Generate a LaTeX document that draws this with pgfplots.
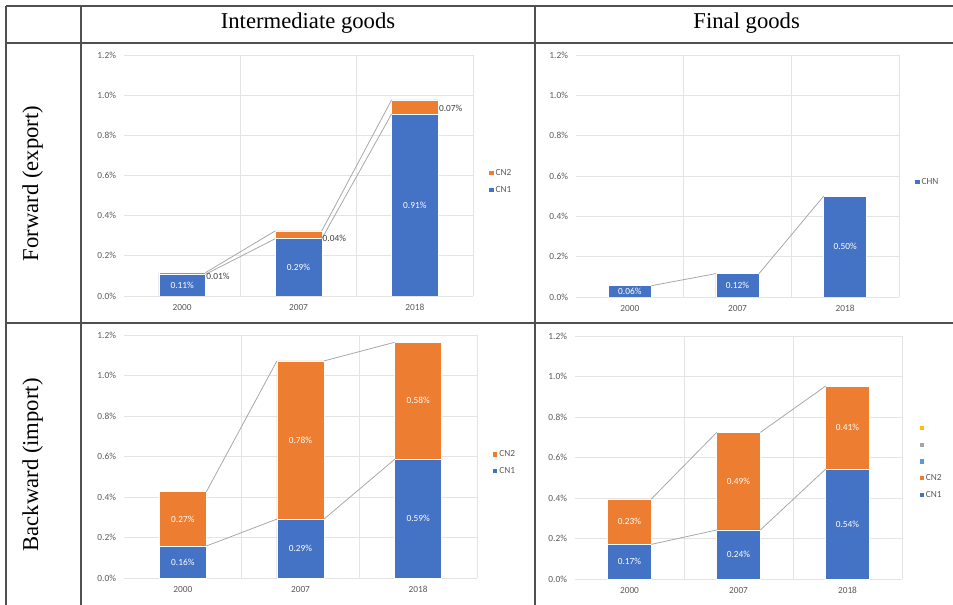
\documentclass[border=0pt]{standalone}
\usepackage{fontspec}
\setmainfont{Liberation Serif}
\newfontfamily\calfont{Carlito}
\usepackage{pgfplots}
\pgfplotsset{compat=1.18}
\definecolor{cBlue}{HTML}{4472C4}
\definecolor{cOrange}{HTML}{ED7D31}
\definecolor{cGray}{HTML}{A5A5A5}
\definecolor{cYellow}{HTML}{FFC000}
\definecolor{cLBlue}{HTML}{5B9BD5}
\definecolor{cGrid}{HTML}{E4E4E4}
\definecolor{cTick}{HTML}{595959}
\definecolor{cLine}{HTML}{A8A8A8}
\definecolor{cTable}{HTML}{505050}
\definecolor{cDark}{HTML}{404040}
\newcommand\cf{\calfont\fontsize{7pt}{8.4pt}\selectfont}
\pgfplotsset{
  panel/.style={
    scale only axis, anchor=south west,
    xmin=-0.5, xmax=2.5, ymin=0, ymax=1.2,
    xtick={0,1,2}, xticklabels={2000,2007,2018},
    ytick={0,0.2,0.4,0.6,0.8,1.0,1.2},
    minor xtick={0.5,1.5,2.5}, xminorgrids, ymajorgrids,
    grid style={draw=cGrid, line width=0.6pt},
    minor grid style={draw=cGrid, line width=0.6pt},
    axis line style={draw=none}, tick style={draw=none},
    major tick length=0pt, minor tick length=0pt,
    /pgf/number format/assume math mode=true,
    yticklabel={\pgfmathprintnumber[fixed,fixed zerofill,precision=1]{\tick}\%},
    ticklabel style={font=\cf, text=cTick},
    yticklabel style={xshift=-2.5pt},
    xticklabel style={yshift=-2.5pt},
    ybar stacked, bar width=0.4,
  },
  over/.style={
    scale only axis, anchor=south west, hide axis, clip=false,
    xmin=-0.5, xmax=2.5, ymin=0, ymax=1.2,
    legend style={draw=none, fill=none, font=\cf, text=cTick, inner sep=0pt,
      anchor=west, row sep=6.3pt, legend cell align=left,
      nodes={inner sep=0pt, text height=4.8pt, text depth=1.4pt},
      /tikz/every odd column/.style={column sep=1.5pt}},
    legend image code/.code={\fill[##1, draw=none] (0pt,-1.6pt) rectangle (3.2pt,1.6pt);},
  },
  sline/.style={color=cLine, line width=0.6pt},
  wlab/.style={draw=none, nodes near coords, point meta=explicit symbolic,
    every node near coord/.append style={font=\cf, text=white, anchor=center}},
  dlab/.style={draw=none, nodes near coords, point meta=explicit symbolic,
    every node near coord/.append style={font=\cf, text=cDark, anchor=west, inner sep=0.5pt}},
  bblue/.style={fill=cBlue, draw=white, line width=0.4pt},
  borange/.style={fill=cOrange, draw=white, line width=0.4pt},
}
\begin{document}
\begin{tikzpicture}
\useasboundingbox (0pt,0pt) rectangle (714.75pt,-453.75pt);
% table
\begin{scope}[draw=cTable, line width=1.1pt]
\draw (4.5pt,-4.5pt) -- (714.75pt,-4.5pt);
\draw (4.5pt,-4.5pt) -- (4.5pt,-453.75pt);
\draw (60.75pt,-4.5pt) -- (60.75pt,-453.75pt);
\draw (401.25pt,-4.5pt) -- (401.25pt,-453.75pt);
\draw (4.5pt,-32.25pt) -- (714.75pt,-32.25pt);
\draw (4.5pt,-242.25pt) -- (714.75pt,-242.25pt);
\end{scope}
\node[anchor=base, inner sep=0pt] at (231pt,-21.2pt) {\fontsize{17pt}{20pt}\selectfont Intermediate goods};
\node[anchor=base, inner sep=0pt] at (560pt,-21.2pt) {\fontsize{17pt}{20pt}\selectfont Final goods};
\node[anchor=base, inner sep=0pt, rotate=90] at (28.6pt,-137.6pt) {\fontsize{17pt}{20pt}\selectfont Forward (export)};
\node[anchor=base, inner sep=0pt, rotate=90] at (28.6pt,-348.75pt) {\fontsize{17pt}{20pt}\selectfont Backward (import)};

% ---------- panel 1: forward, intermediate
\begin{axis}[panel, at={(93pt,-222pt)}, width=261.75pt, height=180.75pt]
\addplot[bblue] coordinates {(0,0.108) (1,0.285) (2,0.906)};
\addplot[borange] coordinates {(0,0.008) (1,0.039) (2,0.070)};
\end{axis}
\begin{axis}[over, at={(93pt,-222pt)}, width=261.75pt, height=180.75pt,
  legend style={at={(1.046,0.475)}}]
\addplot[sline, forget plot] coordinates {(0.2,0.108) (0.8,0.285)};
\addplot[sline, forget plot] coordinates {(1.2,0.285) (1.8,0.906)};
\addplot[sline, forget plot] coordinates {(0.2,0.116) (0.8,0.324)};
\addplot[sline, forget plot] coordinates {(1.2,0.324) (1.8,0.976)};
\addplot[wlab, forget plot] coordinates {(0,0.054) [0.11\%] (1,0.1425) [0.29\%] (2,0.453) [0.91\%]};
\addplot[dlab, forget plot] coordinates {(0.2,0.0996) [0.01\%] (1.2,0.289) [0.04\%] (2.2,0.936) [0.07\%]};
\addlegendimage{fill=cOrange}\addlegendentry{CN2}
\addlegendimage{fill=cBlue}\addlegendentry{CN1}
\end{axis}

% ---------- panel 2: forward, final
\begin{axis}[panel, at={(432pt,-222.75pt)}, width=242.25pt, height=181.5pt]
\addplot[bblue] coordinates {(0,0.056) (1,0.116) (2,0.500)};
\end{axis}
\begin{axis}[over, at={(432pt,-222.75pt)}, width=242.25pt, height=181.5pt,
  legend style={at={(1.05,0.475)}}]
\addplot[sline, forget plot] coordinates {(0.2,0.056) (0.8,0.116)};
\addplot[sline, forget plot] coordinates {(1.2,0.116) (1.8,0.500)};
\addplot[wlab, forget plot] coordinates {(0,0.028) [0.06\%] (1,0.058) [0.12\%] (2,0.25) [0.50\%]};
\addlegendimage{fill=cBlue}\addlegendentry{CHN}
\end{axis}

% ---------- panel 3: backward, intermediate
\begin{axis}[panel, at={(93pt,-433.5pt)}, width=264.75pt, height=182.25pt]
\addplot[bblue] coordinates {(0,0.158) (1,0.291) (2,0.586)};
\addplot[borange] coordinates {(0,0.268) (1,0.781) (2,0.578)};
\end{axis}
\begin{axis}[over, at={(93pt,-433.5pt)}, width=264.75pt, height=182.25pt,
  legend style={at={(1.045,0.474)}}]
\addplot[sline, forget plot] coordinates {(0.2,0.158) (0.8,0.291)};
\addplot[sline, forget plot] coordinates {(1.2,0.291) (1.8,0.586)};
\addplot[sline, forget plot] coordinates {(0.2,0.426) (0.8,1.072)};
\addplot[sline, forget plot] coordinates {(1.2,1.072) (1.8,1.164)};
\addplot[wlab, forget plot] coordinates {(0,0.079) [0.16\%] (1,0.1455) [0.29\%] (2,0.293) [0.59\%]};
\addplot[wlab, forget plot] coordinates {(0,0.292) [0.27\%] (1,0.6815) [0.78\%] (2,0.875) [0.58\%]};
\addlegendimage{fill=cOrange}\addlegendentry{CN2}
\addlegendimage{fill=cBlue}\addlegendentry{CN1}
\end{axis}

% ---------- panel 4: backward, final
\begin{axis}[panel, at={(431.25pt,-434.25pt)}, width=245.25pt, height=182.25pt]
\addplot[bblue] coordinates {(0,0.171) (1,0.242) (2,0.543)};
\addplot[borange] coordinates {(0,0.224) (1,0.482) (2,0.410)};
\end{axis}
\begin{axis}[over, at={(431.25pt,-434.25pt)}, width=245.25pt, height=182.25pt,
  legend style={at={(1.053,0.483)}}]
\addplot[sline, forget plot] coordinates {(0.2,0.171) (0.8,0.242)};
\addplot[sline, forget plot] coordinates {(1.2,0.242) (1.8,0.543)};
\addplot[sline, forget plot] coordinates {(0.2,0.395) (0.8,0.724)};
\addplot[sline, forget plot] coordinates {(1.2,0.724) (1.8,0.953)};
\addplot[wlab, forget plot] coordinates {(0,0.0855) [0.17\%] (1,0.121) [0.24\%] (2,0.2715) [0.54\%]};
\addplot[wlab, forget plot] coordinates {(0,0.283) [0.23\%] (1,0.483) [0.49\%] (2,0.748) [0.41\%]};
\addlegendimage{fill=cYellow}\addlegendentry{\vphantom{CN}}
\addlegendimage{fill=cGray}\addlegendentry{\vphantom{CN}}
\addlegendimage{fill=cLBlue}\addlegendentry{\vphantom{CN}}
\addlegendimage{fill=cOrange}\addlegendentry{CN2}
\addlegendimage{fill=cBlue}\addlegendentry{CN1}
\end{axis}
\end{tikzpicture}
\end{document}
